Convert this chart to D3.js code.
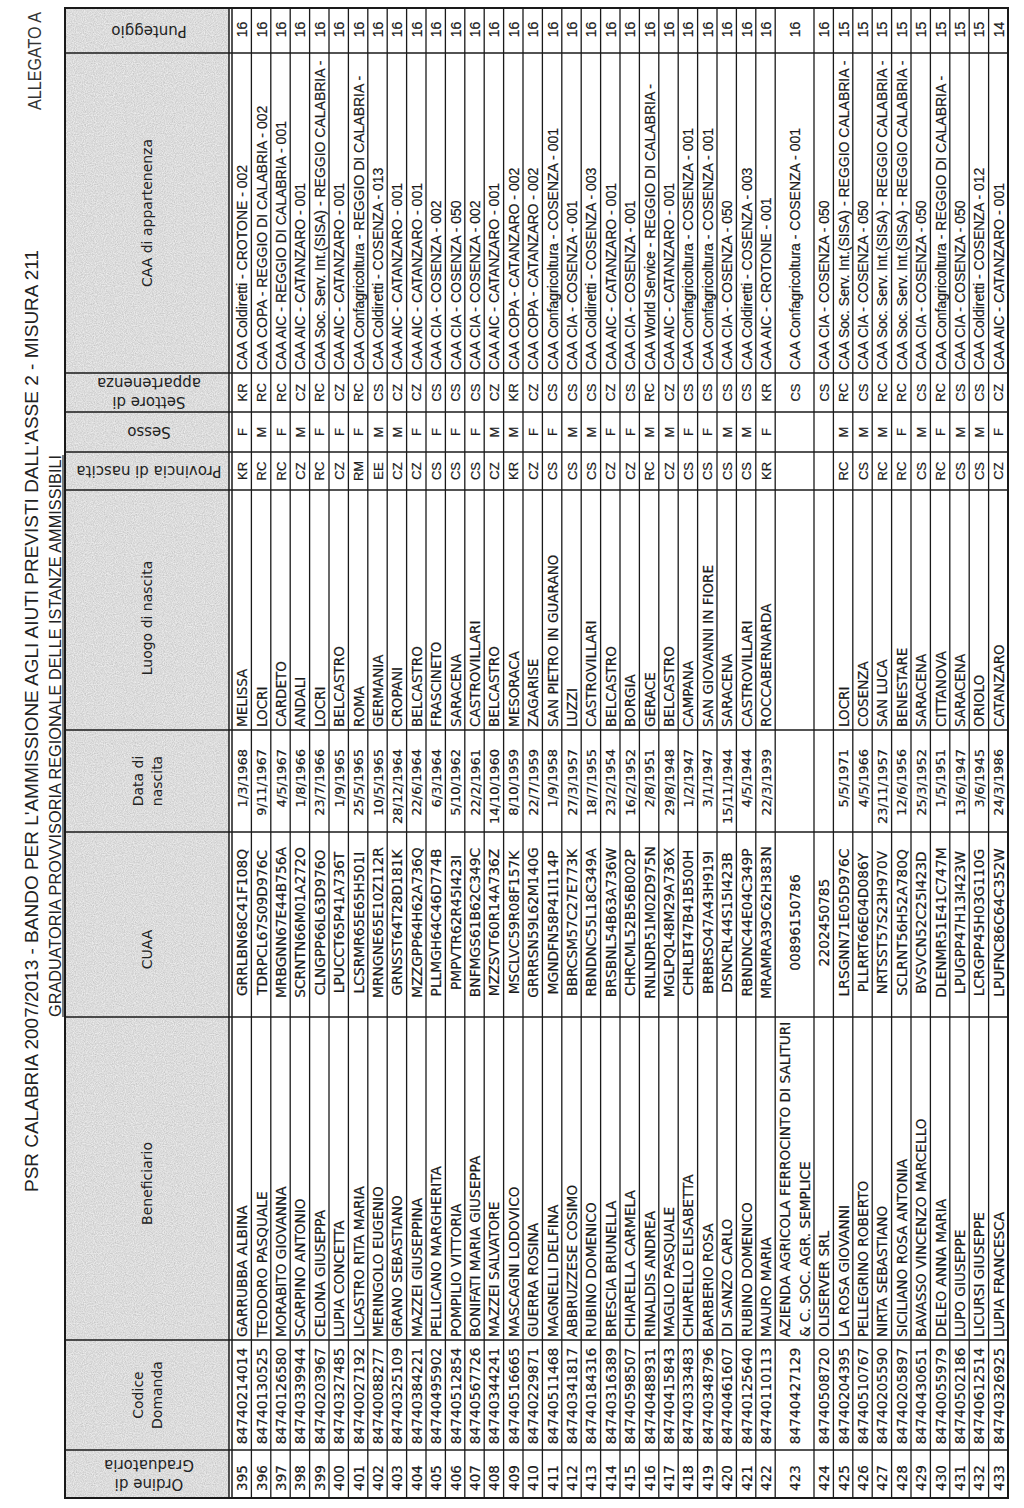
<!DOCTYPE html>
<html>
<head>
<meta charset="utf-8">
<script src="https://cdn.jsdelivr.net/npm/d3@7"></script>
<style>
  html, body { margin: 0; padding: 0; background: #ffffff; }
  svg { display: block; }
</style>
</head>
<body>
<svg id="page" width="1024" height="1508"></svg>
<script>
// ---------------- DATA ----------------
const titleText = "PSR CALABRIA 2007/2013 - BANDO PER L'AMMISSIONE AGLI AIUTI PREVISTI DALL'ASSE 2 - MISURA 211";
const subtitleText = "GRADUATORIA PROVVISORIA REGIONALE DELLE ISTANZE AMMISSIBILI";
const annexText = "ALLEGATO A";

const ordine = [395,396,397,398,399,400,401,402,403,404,405,406,407,408,409,410,411,412,413,414,415,416,417,418,419,420,421,422,423,424,425,426,427,428,429,430,431,432,433];

const codiceDomanda = ["84740214014","84740130525","84740126580","84740339944","84740203967","84740327485","84740027192","84740088277","84740325109","84740384221","84740495902","84740512854","84740567726","84740344241","84740516665","84740229871","84740511468","84740341817","84740184316","84740316389","84740598507","84740488931","84740415843","84740333483","84740348796","84740461607","84740125640","84740110113","84740427129","84740508720","84740204395","84740510767","84740205590","84740205897","84740430651","84740055979","84740502186","84740612514","84740326925"];

const beneficiario = ["GARRUBBA ALBINA","TEODORO PASQUALE","MORABITO GIOVANNA","SCARPINO ANTONIO","CELONA GIUSEPPA","LUPIA CONCETTA","LICASTRO RITA MARIA","MERINGOLO EUGENIO","GRANO SEBASTIANO","MAZZEI GIUSEPPINA","PELLICANO MARGHERITA","POMPILIO VITTORIA","BONIFATI MARIA GIUSEPPA","MAZZEI SALVATORE","MASCAGNI LODOVICO","GUERRA ROSINA","MAGNELLI DELFINA","ABBRUZZESE COSIMO","RUBINO DOMENICO","BRESCIA BRUNELLA","CHIARELLA CARMELA","RINALDIS ANDREA","MAGLIO PASQUALE","CHIARELLO ELISABETTA","BARBERIO ROSA","DI SANZO CARLO","RUBINO DOMENICO","MAURO MARIA","AZIENDA AGRICOLA FERROCINTO DI SALITURI|& C. SOC. AGR. SEMPLICE","OLISERVER SRL","LA ROSA GIOVANNI","PELLEGRINO ROBERTO","NIRTA SEBASTIANO","SICILIANO ROSA ANTONIA","BAVASSO VINCENZO MARCELLO","DELEO ANNA MARIA","LUPO GIUSEPPE","LICURSI GIUSEPPE","LUPIA FRANCESCA"];

const cuaa = ["GRRLBN68C41F108Q","TDRPCL67S09D976C","MRBGNN67E44B756A","SCRNTN66M01A272O","CLNGPP66L63D976O","LPUCCT65P41A736T","LCSRMR65E65H501I","MRNGNE65E10Z112R","GRNSST64T28D181K","MZZGPP64H62A736Q","PLLMGH64C46D774B","PMPVTR62R45I423I","BNFMGS61B62C349C","MZZSVT60R14A736Z","MSCLVC59R08F157K","GRRRSN59L62M140G","MGNDFN58P41I114P","BBRCSM57C27E773K","RBNDNC55L18C349A","BRSBNL54B63A736W","CHRCML52B56B002P","RNLNDR51M02D975N","MGLPQL48M29A736X","CHRLBT47B41B500H","BRBRSO47A43H919I","DSNCRL44S15I423B","RBNDNC44E04C349P","MRAMRA39C62H383N","00896150786","2202450785","LRSGNN71E05D976C","PLLRRT66E04D086Y","NRTSST57S23H970V","SCLRNT56H52A780Q","BVSVCN52C25I423D","DLENMR51E41C747M","LPUGPP47H13I423W","LCRGPP45H03G110G","LPUFNC86C64C352W"];

const dataNascita = ["1/3/1968","9/11/1967","4/5/1967","1/8/1966","23/7/1966","1/9/1965","25/5/1965","10/5/1965","28/12/1964","22/6/1964","6/3/1964","5/10/1962","22/2/1961","14/10/1960","8/10/1959","22/7/1959","1/9/1958","27/3/1957","18/7/1955","23/2/1954","16/2/1952","2/8/1951","29/8/1948","1/2/1947","3/1/1947","15/11/1944","4/5/1944","22/3/1939","","","5/5/1971","4/5/1966","23/11/1957","12/6/1956","25/3/1952","1/5/1951","13/6/1947","3/6/1945","24/3/1986"];

const luogoNascita = ["MELISSA","LOCRI","CARDETO","ANDALI","LOCRI","BELCASTRO","ROMA","GERMANIA","CROPANI","BELCASTRO","FRASCINETO","SARACENA","CASTROVILLARI","BELCASTRO","MESORACA","ZAGARISE","SAN PIETRO IN GUARANO","LUZZI","CASTROVILLARI","BELCASTRO","BORGIA","GERACE","BELCASTRO","CAMPANA","SAN GIOVANNI IN FIORE","SARACENA","CASTROVILLARI","ROCCABERNARDA","","","LOCRI","COSENZA","SAN LUCA","BENESTARE","SARACENA","CITTANOVA","SARACENA","ORIOLO","CATANZARO"];

const provinciaNascita = ["KR","RC","RC","CZ","RC","CZ","RM","EE","CZ","CZ","CS","CS","CS","CZ","KR","CZ","CS","CS","CS","CZ","CZ","RC","CZ","CS","CS","CS","CS","KR","","","RC","CS","RC","RC","CS","RC","CS","CS","CZ"];

const sesso = ["F","M","F","M","F","F","F","M","M","F","F","F","F","M","M","F","F","M","M","F","F","M","M","F","F","M","M","F","","","M","M","M","F","M","F","M","M","F"];

const settore = ["KR","RC","RC","CZ","RC","CZ","RC","CS","CZ","CZ","CS","CS","CS","CZ","KR","CZ","CS","CS","CS","CZ","CS","RC","CZ","CS","CS","CS","CS","KR","CS","CS","RC","CS","RC","RC","CS","RC","CS","CS","CZ"];

const caa = ["CAA Coldiretti - CROTONE - 002","CAA COPA - REGGIO DI CALABRIA - 002","CAA AIC - REGGIO DI CALABRIA - 001","CAA AIC - CATANZARO - 001","CAA Soc. Serv. Int.(SISA) - REGGIO CALABRIA -","CAA AIC - CATANZARO - 001","CAA Confagricoltura - REGGIO DI CALABRIA -","CAA Coldiretti - COSENZA - 013","CAA AIC - CATANZARO - 001","CAA AIC - CATANZARO - 001","CAA CIA - COSENZA - 002","CAA CIA - COSENZA - 050","CAA CIA - COSENZA - 002","CAA AIC - CATANZARO - 001","CAA COPA - CATANZARO - 002","CAA COPA - CATANZARO - 002","CAA Confagricoltura - COSENZA - 001","CAA CIA - COSENZA - 001","CAA Coldiretti - COSENZA - 003","CAA AIC - CATANZARO - 001","CAA CIA - COSENZA - 001","CAA World Service - REGGIO DI CALABRIA -","CAA AIC - CATANZARO - 001","CAA Confagricoltura - COSENZA - 001","CAA Confagricoltura - COSENZA - 001","CAA CIA - COSENZA - 050","CAA Coldiretti - COSENZA - 003","CAA AIC - CROTONE - 001","CAA Confagricoltura - COSENZA - 001","CAA CIA - COSENZA - 050","CAA Soc. Serv. Int.(SISA) - REGGIO CALABRIA -","CAA CIA - COSENZA - 050","CAA Soc. Serv. Int.(SISA) - REGGIO CALABRIA -","CAA Soc. Serv. Int.(SISA) - REGGIO CALABRIA -","CAA CIA - COSENZA - 050","CAA Confagricoltura - REGGIO DI CALABRIA -","CAA CIA - COSENZA - 050","CAA Coldiretti - COSENZA - 012","CAA AIC - CATANZARO - 001"];

const punteggio = [16,16,16,16,16,16,16,16,16,16,16,16,16,16,16,16,16,16,16,16,16,16,16,16,16,16,16,16,16,16,15,15,15,15,15,15,15,15,14];

// row height in units (the company row uses two lines)
const rowSpan = ordine.map(o => o === 423 ? 2 : 1);

// column headers (lines separated by |)
const headers = ["Ordine di|Graduatoria","Codice|Domanda","Beneficiario","CUAA","Data di|nascita","Luogo di nascita","Provincia di nascita","Sesso","Settore di|appartenenza","CAA di appartenenza","Punteggio"];

// ---------------- LAYOUT ----------------
const svg = d3.select("#page");
const W = 1024, H = 1508;

const colEdges = [1498, 1450, 1340, 1017, 832, 730, 490, 452, 412, 373, 53, 8];
const colIndex = d3.range(headers.length);
const colLo = d3.scaleOrdinal().domain(colIndex).range(colEdges.slice(0, -1));
const colHi = d3.scaleOrdinal().domain(colIndex).range(colEdges.slice(1));
const colMid = i => (colLo(i) + colHi(i)) / 2;

const cum = [0];
rowSpan.forEach((s, i) => cum.push(cum[i] + s));
const totalUnits = cum[cum.length - 1];
const tableLeft = 65, headerRight = 229, rowsLeft = 232, tableRight = 1008;
const xRow = d3.scaleLinear().domain([0, totalUnits]).range([rowsLeft, tableRight]);

const ink = "#1a1a1a";

const defs = svg.append("defs");
const f = defs.append("filter").attr("id", "grain").attr("x", 0).attr("y", 0).attr("width", 1).attr("height", 1);
f.append("feTurbulence").attr("type", "fractalNoise").attr("baseFrequency", 0.9).attr("numOctaves", 2).attr("seed", 3).attr("result", "n");
f.append("feColorMatrix").attr("in", "n").attr("type", "matrix")
  .attr("values", "0 0 0 0 0.55  0 0 0 0 0.55  0 0 0 0 0.55  0 0 0 -1.6 1.25").attr("result", "g");
f.append("feComposite").attr("in", "g").attr("in2", "SourceGraphic").attr("operator", "in");

colIndex.forEach(i => {
  defs.append("clipPath").attr("id", "clip" + i)
    .append("rect").attr("x", tableLeft).attr("width", tableRight - tableLeft)
    .attr("y", colHi(i) + 1).attr("height", colLo(i) - colHi(i) - 2);
});

svg.append("rect").attr("width", W).attr("height", H).attr("fill", "#ffffff");

const tTop = colEdges[colEdges.length - 1], tBottom = colEdges[0];

svg.append("rect").attr("x", tableLeft).attr("y", tTop)
  .attr("width", headerRight - tableLeft).attr("height", tBottom - tTop)
  .attr("fill", "#ececec");
svg.append("rect").attr("x", tableLeft).attr("y", tTop)
  .attr("width", headerRight - tableLeft).attr("height", tBottom - tTop)
  .attr("fill", "#d8d8d8").attr("filter", "url(#grain)").attr("opacity", 0.9);

function vText(g, x, y, txt, opt) {
  return g.append("text")
    .attr("transform", `translate(${x},${y}) rotate(${opt.rot == null ? -90 : opt.rot})`)
    .attr("text-anchor", opt.anchor || "middle")
    .attr("dominant-baseline", "central")
    .attr("font-family", opt.font || "'DejaVu Sans', sans-serif")
    .attr("font-size", opt.size || 13)
    .attr("fill", opt.fill || ink)
    .text(txt);
}

// ---------------- TITLES ----------------
const tg = svg.append("g");
vText(tg, 32, 1192, titleText, {anchor: "start", size: 18, font: "'Liberation Sans', Arial, sans-serif", fill: "#222"})
  .attr("textLength", 942).attr("lengthAdjust", "spacingAndGlyphs");
vText(tg, 55, 1017, subtitleText, {anchor: "start", size: 16, font: "'Liberation Sans', Arial, sans-serif", fill: "#222"})
  .attr("textLength", 562).attr("lengthAdjust", "spacingAndGlyphs");
tg.append("line").attr("x1", 63).attr("x2", 63).attr("y1", 1017).attr("y2", 455)
  .attr("stroke", "#222").attr("stroke-width", 1.2);
vText(tg, 35, 110, annexText, {anchor: "start", size: 18, font: "'Liberation Sans', Arial, sans-serif", fill: "#333"})
  .attr("textLength", 98).attr("lengthAdjust", "spacingAndGlyphs");

// ---------------- HEADER LABELS ----------------
const hg = svg.append("g");
const hx = (tableLeft + headerRight) / 2;
const flipped = new Set([0, 6, 7, 8, 10]);
const headerOffset = {2: 5, 3: 25, 5: 8};
headers.forEach((h, i) => {
  const lines = h.split("|");
  const lh = 19;
  lines.forEach((ln, k) => {
    const off = (k - (lines.length - 1) / 2) * lh;
    if (flipped.has(i)) {
      vText(hg, hx + 2, colMid(i) - off, ln, {rot: 180, size: 15, fill: "#222"});
    } else {
      vText(hg, hx + off, colMid(i) + (headerOffset[i] || 0), ln, {rot: -90, size: 14, fill: "#222"});
    }
  });
});

// ---------------- CELLS ----------------
const rows = ordine.map((o, i) => ({
  i, x0: xRow(cum[i]), x1: xRow(cum[i + 1]),
  vals: [String(o), codiceDomanda[i], beneficiario[i], cuaa[i], dataNascita[i], luogoNascita[i],
         provinciaNascita[i], sesso[i], settore[i], caa[i], String(punteggio[i])]
}));

const colStyle = [
  {anchor: "middle", pos: i => colMid(i) + 4, size: 13.5},
  {anchor: "middle", pos: i => colMid(i) + 1, size: 13.8},
  {anchor: "start", pos: i => colLo(i) - 3, size: 13.7},
  {anchor: "middle", pos: i => colMid(i) - 2, size: 13.8},
  {anchor: "end", pos: i => colHi(i) + 19, size: 13},
  {anchor: "start", pos: i => colLo(i) - 3, size: 13.5},
  {anchor: "middle", pos: i => colMid(i), size: 13, font: "'Liberation Sans', Arial, sans-serif"},
  {anchor: "middle", pos: i => colMid(i), size: 13, font: "'Liberation Sans', Arial, sans-serif"},
  {anchor: "middle", pos: i => colMid(i), size: 13, font: "'Liberation Sans', Arial, sans-serif"},
  {anchor: "start", pos: i => colLo(i) - 3, size: 14, font: "'Liberation Sans', Arial, sans-serif"},
  {anchor: "middle", pos: i => colMid(i) - 1, size: 14, font: "'Liberation Sans', Arial, sans-serif"}
];

const cg = svg.append("g").attr("stroke", ink).attr("stroke-width", 0.2);
colIndex.forEach(c => {
  const g = cg.append("g").attr("clip-path", `url(#clip${c})`);
  const st = colStyle[c];
  rows.forEach(r => {
    const v = r.vals[c];
    if (!v) return;
    const lines = v.split("|");
    const mid = (r.x0 + r.x1) / 2;
    const step = (r.x1 - r.x0) / lines.length;
    lines.forEach((ln, k) => {
      const x = lines.length > 1 ? r.x0 + step * (k + 0.5) : mid;
      vText(g, x + 0.5, st.pos(c), ln, {anchor: st.anchor, size: st.size, font: st.font});
    });
  });
});

// ---------------- GRID ----------------
const gg = svg.append("g").attr("stroke", "#1a1a1a").attr("fill", "none");
gg.selectAll("line.row").data(cum.slice(1, -1)).join("line")
  .attr("x1", d => xRow(d)).attr("x2", d => xRow(d))
  .attr("y1", tTop).attr("y2", tBottom).attr("stroke-width", 1.3);
gg.selectAll("line.col").data(colEdges.slice(1, -1)).join("line")
  .attr("x1", tableLeft).attr("x2", tableRight)
  .attr("y1", d => d).attr("y2", d => d).attr("stroke-width", 1.3);
gg.append("line").attr("x1", headerRight).attr("x2", headerRight).attr("y1", tTop).attr("y2", tBottom).attr("stroke-width", 1.5);
gg.append("line").attr("x1", rowsLeft).attr("x2", rowsLeft).attr("y1", tTop).attr("y2", tBottom).attr("stroke-width", 1.5);
gg.append("rect").attr("x", tableLeft).attr("y", tTop).attr("width", tableRight - tableLeft)
  .attr("height", tBottom - tTop).attr("stroke-width", 2);
</script>
</body>
</html>
